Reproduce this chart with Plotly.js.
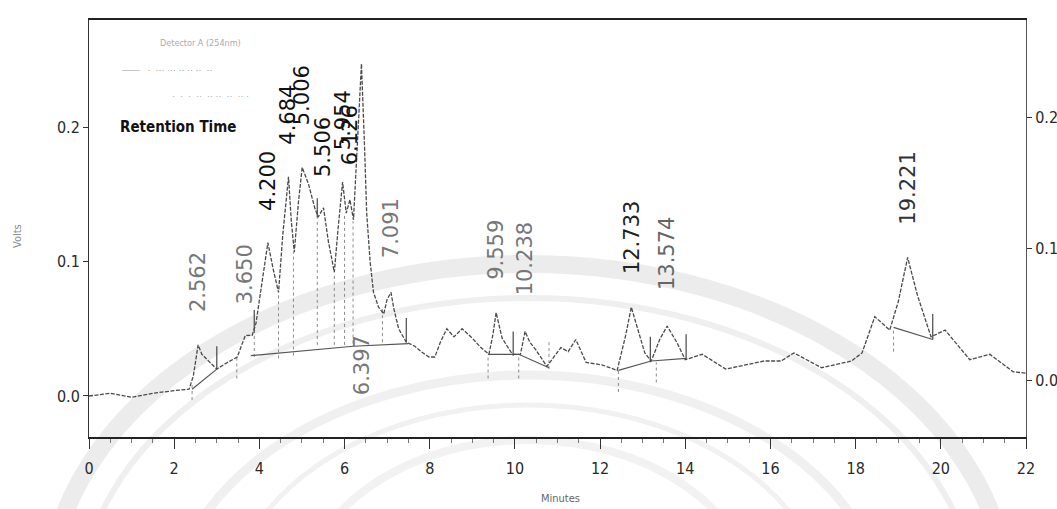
<!DOCTYPE html>
<html>
<head>
<meta charset="utf-8">
<script src="https://cdn.plot.ly/plotly-3.0.1.min.js"></script>
<style>html,body{margin:0;padding:0;background:#fff}#chart{width:1057px;height:509px}</style>
</head>
<body>
<div id="chart"></div>
<script>
// ---- data ----
const time = [0,0.5,1.0,1.5,2.0,2.35,2.45,2.5,2.562,2.65,2.8,3.0,3.2,3.48,3.67,3.83,3.92,4.05,4.2,4.32,4.45,4.55,4.684,4.75,4.82,4.92,5.006,5.15,5.3,5.38,5.506,5.62,5.76,5.85,5.954,6.04,6.126,6.21,6.3,6.397,6.47,6.52,6.6,6.68,6.8,6.92,7.0,7.091,7.15,7.27,7.45,7.65,7.8,7.98,8.12,8.25,8.40,8.57,8.76,9.0,9.2,9.39,9.48,9.559,9.7,9.94,10.13,10.238,10.35,10.5,10.75,11.08,11.25,11.43,11.67,12.06,12.4,12.6,12.733,12.9,13.05,13.2,13.4,13.574,13.8,14.0,14.4,14.95,15.4,15.85,16.25,16.55,17.2,17.9,18.15,18.45,18.8,19.0,19.221,19.45,19.77,20.1,20.68,21.15,21.7,22.0];
const volts = [0.000,0.002,-0.001,0.002,0.004,0.005,0.015,0.025,0.038,0.031,0.026,0.020,0.024,0.029,0.045,0.045,0.054,0.082,0.114,0.095,0.077,0.120,0.163,0.130,0.107,0.145,0.170,0.158,0.140,0.133,0.140,0.115,0.092,0.125,0.159,0.136,0.146,0.131,0.190,0.247,0.185,0.136,0.100,0.077,0.066,0.061,0.072,0.077,0.066,0.050,0.040,0.037,0.033,0.029,0.029,0.040,0.050,0.044,0.050,0.043,0.036,0.031,0.045,0.062,0.043,0.031,0.031,0.048,0.040,0.034,0.022,0.036,0.033,0.042,0.025,0.023,0.019,0.045,0.066,0.048,0.032,0.026,0.042,0.052,0.040,0.027,0.031,0.020,0.023,0.026,0.026,0.032,0.021,0.026,0.032,0.059,0.049,0.070,0.103,0.075,0.044,0.049,0.027,0.031,0.018,0.017];

const peakTimes  = [2.562,3.650,4.200,4.684,5.006,5.506,5.954,6.126,6.397,7.091,9.559,10.238,12.733,13.574,19.221];
const peakLabels = ['2.562','3.650','4.200','4.684','5.006','5.506','5.954','6.126','6.397','7.091','9.559','10.238','12.733','13.574','19.221'];

// integration baseline segments (null = break)
const baseT = [2.42,3.0,null,3.80,6.20,7.50,null,9.37,10.09,10.80,null,12.43,13.20,14.02,null,18.89,19.81];
const baseV = [0.005,0.020,null,0.030,0.037,0.039,null,0.031,0.031,0.021,null,0.019,0.026,0.028,null,0.051,0.042];

// dotted drop lines
const dropT  = [2.42,3.47,3.88,4.45,4.80,5.36,5.76,6.00,6.20,6.89,9.37,10.09,10.80,12.43,13.32,18.89];
const dropLo = [-0.003,0.013,0.029,0.028,0.030,0.038,0.038,0.038,0.039,0.040,0.013,0.013,0.020,0.003,0.010,0.033];
const dropHi = [0.010,0.030,0.047,0.077,0.107,0.133,0.090,0.136,0.130,0.066,0.031,0.031,0.040,0.020,0.025,0.050];

// solid peak-end markers
const tickT  = [3.00,3.88,5.36,7.45,9.96,13.18,14.02,19.81];
const tickLo = [0.020,0.047,0.133,0.040,0.030,0.025,0.027,0.042];
const tickHi = [0.037,0.064,0.147,0.058,0.048,0.044,0.046,0.061];

// ---- build segment series ----
function segs(t, lo, hi){
  const x=[], y=[];
  for(let i=0;i<t.length;i++){ x.push(t[i],t[i],null); y.push(lo[i],hi[i],null); }
  return {x, y};
}
const drops = segs(dropT, dropLo, dropHi);
const ticks = segs(tickT, tickLo, tickHi);

const traces = [
  {x: drops.x, y: drops.y, mode:'lines', line:{color:'#8a8a8a', width:1, dash:'dot'}, hoverinfo:'skip', showlegend:false},
  {x: baseT, y: baseV, mode:'lines', line:{color:'#555', width:1.2}, connectgaps:false, hoverinfo:'skip', showlegend:false},
  {x: ticks.x, y: ticks.y, mode:'lines', line:{color:'#555', width:1.3}, hoverinfo:'skip', showlegend:false},
  {x: time, y: volts, mode:'lines', line:{color:'#4a4a4a', width:1.3, dash:'4px,1.5px'}, showlegend:false},
  {x: [0], y: [0], yaxis:'y2', mode:'markers', marker:{opacity:0}, hoverinfo:'skip', showlegend:false}
];

// ---- labels ----
const labelY    = [0.061,0.067,0.136,0.185,0.200,0.161,0.181,0.170,0.047,0.101,0.085,0.073,0.089,0.077,0.126];
const labelAnch = ['bottom','bottom','bottom','bottom','bottom','bottom','bottom','bottom','top','bottom','bottom','bottom','bottom','bottom','bottom'];
const labelCol  = ['#777','#777','#111','#111','#111','#111','#111','#111','#777','#777','#777','#777','#222','#666','#333'];

const annotations = peakLabels.map((s,i)=>({
  x: peakTimes[i], y: labelY[i], xref:'x', yref:'y', text: s, showarrow:false,
  textangle:-90, xanchor:'center', yanchor: labelAnch[i],
  font:{family:'DejaVu Sans, Liberation Sans, sans-serif', size:21, color: labelCol[i]}
}));

const W = 937, H = 417;
function px(x){ return (x-89)/W; }
function py(y){ return (437-y)/H; }
const narrow = 'DejaVu Sans Condensed, Liberation Sans Narrow, Liberation Sans, sans-serif';
annotations.push(
  {xref:'paper', yref:'paper', x:px(118), y:py(127), xanchor:'left', yanchor:'middle', showarrow:false,
   text:'<b>Retention Time</b>', font:{family:narrow, size:15, color:'#111'}},
  {xref:'paper', yref:'paper', x:px(158), y:py(43), xanchor:'left', yanchor:'middle', showarrow:false,
   text:'Detector A (254nm)', font:{family:narrow, size:9, color:'#aaa'}},
  {xref:'paper', yref:'paper', x:px(120), y:py(70), xanchor:'left', yanchor:'middle', showarrow:false,
   text:'——   ·  ··· ··· ·· ·· ··  ··', font:{family:'Liberation Sans', size:9, color:'#999'}},
  {xref:'paper', yref:'paper', x:px(170), y:py(96), xanchor:'left', yanchor:'middle', showarrow:false,
   text:'·  ·  ·  ··  ·· ··  ··  ·· ·', font:{family:'Liberation Sans', size:9, color:'#aaa'}},
  {xref:'paper', yref:'paper', x:px(17), y:py(236), xanchor:'center', yanchor:'middle', showarrow:false,
   text:'Volts', textangle:-90, font:{family:narrow, size:11, color:'#888'}},
  {xref:'paper', yref:'paper', x:px(560), y:py(498), xanchor:'center', yanchor:'middle', showarrow:false,
   text:'Minutes', font:{family:narrow, size:11, color:'#666'}}
);

// faint watermark arcs (university seal in the scanned page)
function ell(cx, top, rx, ry, w, c){
  return {type:'circle', xref:'paper', yref:'paper', layer:'below',
    x0:px(cx-rx), x1:px(cx+rx), y0:py(top+2*ry), y1:py(top),
    line:{color:c, width:w}};
}
const shapes = [
  ell(528, 264, 481, 341, 18, '#ececec'),
  ell(528, 298, 448, 310, 6, '#efefef'),
  ell(528, 375, 360, 250, 9, '#f0f0f0'),
  ell(528, 405, 300, 210, 5, '#f1f1f1'),
  ell(528, 440, 230, 170, 8, '#f2f2f2')
];

const tickFont = {family:narrow, size:16, color:'#2a2a2a'};

const layout = {
  width:1057, height:509,
  margin:{l:89, r:31, t:20, b:72},
  paper_bgcolor:'#fff', plot_bgcolor:'rgba(0,0,0,0)',
  showlegend:false,
  xaxis:{range:[0,22], tickmode:'array', tickvals:[0,2,4,6,8,10,12,14,16,18,20,22],
         ticks:'outside', ticklen:10, tickcolor:'#333', showgrid:false, zeroline:false,
         showline:true, linecolor:'#222', linewidth:2, mirror:true, ticklabelstandoff:6,
         minor:{ticks:'outside', ticklen:4, dtick:0.5, tickcolor:'#777', showgrid:false},
         tickfont:tickFont},
  yaxis:{range:[-0.0305,0.2796], tickmode:'array', tickvals:[0,0.1,0.2], ticktext:['0.0','0.1','0.2'],
         ticks:'outside', ticklen:5, tickcolor:'#333', showgrid:false, zeroline:false,
         showline:true, linecolor:'#333', linewidth:1, tickfont:tickFont},
  yaxis2:{overlaying:'y', side:'right', range:[-0.0433,0.2738], tickmode:'array', tickvals:[0,0.1,0.2], ticktext:['0.0','0.1','0.2'],
          ticks:'outside', ticklen:5, tickcolor:'#333', showgrid:false, zeroline:false,
          showline:true, linecolor:'#555', linewidth:1, tickfont:tickFont},
  shapes: shapes,
  annotations: annotations
};

Plotly.newPlot('chart', traces, layout, {displayModeBar:false, staticPlot:true});
</script>
</body>
</html>
